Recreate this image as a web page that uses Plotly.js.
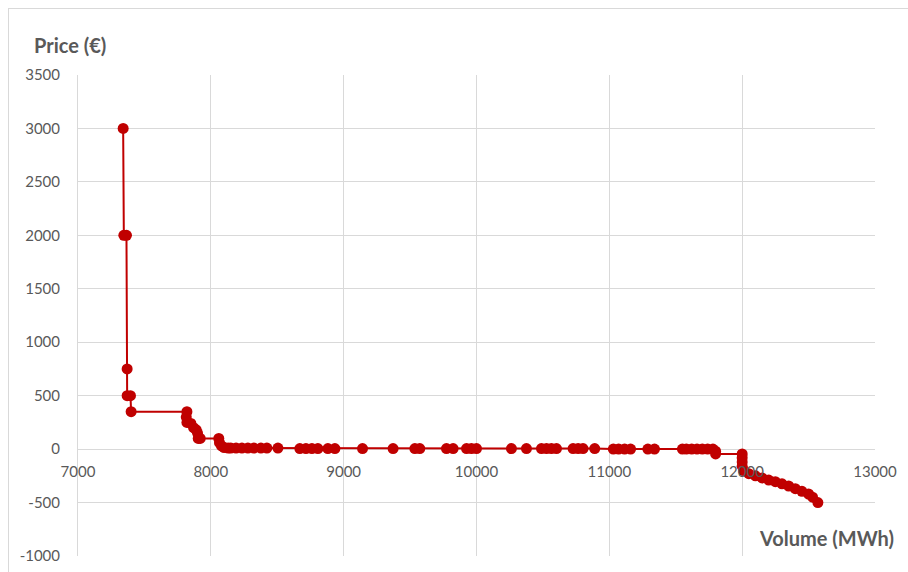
<!DOCTYPE html>
<html>
<head>
<meta charset="utf-8">
<script src="https://cdn.plot.ly/plotly-3.0.1.min.js"></script>
<style>
  html, body { margin: 0; padding: 0; background: #fff; }
  #frame { position: absolute; left: 8px; top: 8px; width: 920px; height: 600px;
           border-top: 1px solid #d9d9d9; border-left: 1px solid #d9d9d9; pointer-events: none; z-index: 5; }
  #chart { position: absolute; left: 0; top: 0; width: 908px; height: 572px; }
</style>
</head>
<body>
<div id="chart"></div>
<div id="frame"></div>
<script>
// Supply curve: volume (MWh) vs price (€)
const volume = [7340, 7345, 7365, 7370, 7370, 7395, 7400, 7820, 7815, 7820, 7850, 7870, 7890, 7900, 7905, 7920,
  8060, 8065, 8080, 8100, 8130, 8150, 8190, 8234, 8279, 8324, 8377, 8422, 8505, 8670, 8716, 8761, 8806, 8881, 8934,
  9142, 9372, 9536, 9573, 9774, 9824, 9925, 9962, 10000, 10263, 10376, 10489, 10527, 10564, 10602, 10727, 10765,
  10802, 10890, 11030, 11070, 11115, 11160, 11290, 11340, 11550, 11580, 11620, 11660, 11700, 11740, 11780, 11800,
  11800, 12000, 12000, 12000, 12000, 12010, 12050, 12100, 12150, 12200, 12250, 12300, 12350, 12400, 12450, 12500,
  12530, 12570];
const price = [3000, 2000, 2000, 750, 500, 500, 350, 350, 300, 250, 240, 200, 180, 150, 100, 100,
  100, 60, 30, 15, 10, 10, 10, 10, 10, 10, 10, 10, 10, 5, 5, 5, 5, 5, 5,
  5, 5, 5, 5, 5, 5, 5, 5, 5, 5, 5, 5, 5, 5, 5, 5, 5,
  5, 5, 0, 0, 0, 0, 0, 0, 0, 0, 0, 0, 0, 0, 0, -20,
  -45, -45, -80, -120, -160, -200, -230, -250, -270, -290, -305, -325, -345, -370, -395, -420,
  -450, -500];

const xTicks = [7000, 8000, 9000, 10000, 11000, 12000, 13000];
const yTicks = [-1000, -500, 0, 500, 1000, 1500, 2000, 2500, 3000, 3500];
const xTitle = "Volume (MWh)";
const yTitle = "Price (€)";

const red = "#C00000";
const grid = "#d9d9d9";
const txt = "#595959";
const fontFam = "Lato, 'Open Sans', sans-serif";

const trace = {
  x: volume, y: price, type: "scatter", mode: "lines+markers",
  line: { color: red, width: 2 },
  marker: { color: red, size: 11 },
  hoverinfo: "x+y"
};

const L = 78, R = 33, T = 75, B = 16;
const W = 908, H = 572;
const pw = W - L - R, ph = H - T - B;

const layout = {
  width: W, height: H,
  margin: { l: L, r: R, t: T, b: B, pad: 0 },
  paper_bgcolor: "#fff", plot_bgcolor: "#fff",
  showlegend: false,
  font: { family: fontFam, color: txt, size: 15 },
  xaxis: {
    range: [7000, 13000], tickvals: xTicks, ticktext: xTicks.map(String),
    showgrid: true, gridcolor: grid, gridwidth: 1,
    zeroline: false, showline: false, ticks: "",
    anchor: "free", position: 1000 / 4500,
    ticklabelstandoff: 12,
    tickfont: { family: fontFam, size: 15, color: txt },
    fixedrange: true
  },
  yaxis: {
    range: [-1000, 3500], tickvals: yTicks, ticktext: yTicks.map(String),
    showgrid: true, gridcolor: grid, gridwidth: 1,
    zeroline: true, zerolinecolor: grid, zerolinewidth: 1,
    showline: true, linecolor: grid, linewidth: 1, ticks: "",
    ticklabelstandoff: 14,
    tickfont: { family: fontFam, size: 15, color: txt },
    fixedrange: true
  },
  annotations: [
    { text: "<b>" + yTitle + "</b>", xref: "paper", yref: "paper",
      x: (32 - L) / pw, y: (H - B - 45) / ph, xanchor: "left", yanchor: "middle",
      showarrow: false, font: { family: fontFam, size: 20, color: txt } },
    { text: "<b>" + xTitle + "</b>", xref: "paper", yref: "paper",
      x: (896 - L) / pw, y: (H - B - 538) / ph, xanchor: "right", yanchor: "middle",
      showarrow: false, font: { family: fontFam, size: 20, color: txt } }
  ]
};

Plotly.newPlot("chart", [trace], layout, { displayModeBar: false, staticPlot: true });
</script>
</body>
</html>
